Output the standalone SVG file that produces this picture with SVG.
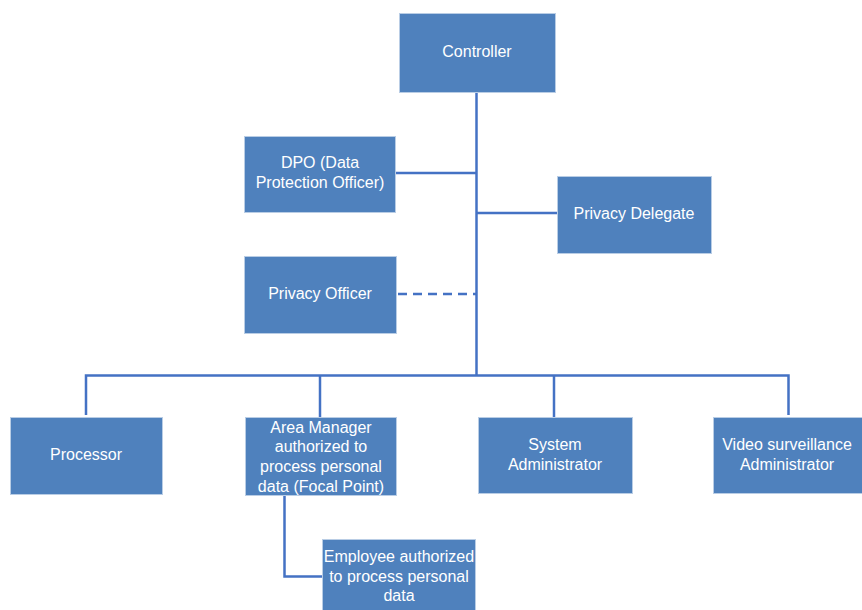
<svg xmlns="http://www.w3.org/2000/svg" width="862" height="610" viewBox="0 0 862 610">
<style>
.box{fill:#4F81BD;stroke:#B9CDE5;stroke-width:1}
.t{font-family:"Liberation Sans",Arial,sans-serif;font-size:16px;fill:#FFFFFF;text-anchor:middle}
.ln{fill:none;stroke:#4472C4;stroke-width:2.5}
.dash{stroke-dasharray:9 6}
</style>
<rect width="862" height="610" fill="#FFFFFF"/>
<g id="connectors">
<path class="ln" d="M476.5 92 V375"/>
<path class="ln" d="M396 173 H476.5"/>
<path class="ln" d="M476.5 213 H557"/>
<path class="ln dash" d="M398 294 H476.5"/>
<path class="ln" d="M86 415 V375.5 H788.5 V415"/>
<path class="ln" d="M320 375.5 V417"/>
<path class="ln" d="M554 375.5 V417"/>
<path class="ln" d="M284.5 496 V576.5 H322"/>
</g>
<g id="controller"><rect class="box" x="399.5" y="13.5" width="156" height="79"/><text class="t" x="477" y="57">Controller</text></g>
<g id="dpo"><rect class="box" x="244.5" y="136.5" width="151" height="76"/><text class="t" x="320" y="168">DPO (Data</text><text class="t" x="320" y="188">Protection Officer)</text></g>
<g id="privacy-delegate"><rect class="box" x="557.5" y="176.5" width="154" height="77"/><text class="t" x="634" y="219">Privacy Delegate</text></g>
<g id="privacy-officer"><rect class="box" x="244.5" y="256.5" width="152" height="77"/><text class="t" x="320" y="299">Privacy Officer</text></g>
<g id="processor"><rect class="box" x="10.5" y="417.5" width="152" height="77"/><text class="t" x="86" y="460">Processor</text></g>
<g id="area-manager"><rect class="box" x="245.5" y="417.5" width="151" height="78"/><text class="t" x="321" y="433">Area Manager</text><text class="t" x="321" y="452">authorized to</text><text class="t" x="321" y="472">process personal</text><text class="t" x="321" y="492">data (Focal Point)</text></g>
<g id="system-admin"><rect class="box" x="478.5" y="417.5" width="154" height="76"/><text class="t" x="555" y="450">System</text><text class="t" x="555" y="470">Administrator</text></g>
<g id="video-admin"><rect class="box" x="713.5" y="417.5" width="150" height="76"/><text class="t" x="787" y="450">Video surveillance</text><text class="t" x="787" y="470">Administrator</text></g>
<g id="employee"><rect class="box" x="322.5" y="539.5" width="153" height="72"/><text class="t" x="399" y="562">Employee authorized</text><text class="t" x="399" y="582">to process personal</text><text class="t" x="399" y="601">data</text></g>
</svg>
